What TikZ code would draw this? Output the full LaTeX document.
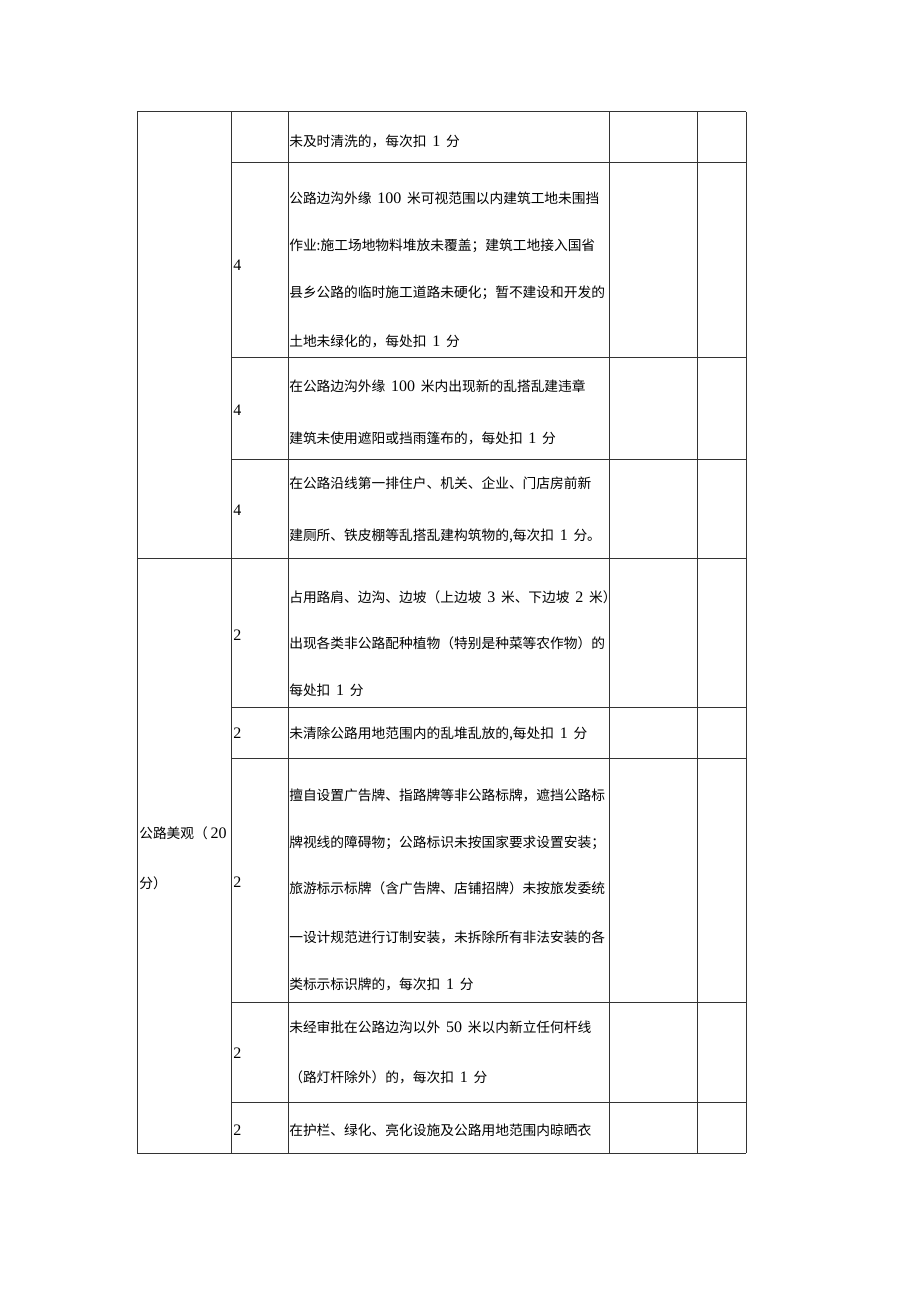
\documentclass[tikz,border=0pt]{standalone}
\usepackage{fontspec}
\setmainfont{Noto Sans CJK SC}
\newfontfamily\latinfont{Liberation Serif}
\newcommand\nm[1]{\hspace{2pt}{\latinfont\fontsize{12}{14}\selectfont #1}\hspace{2pt}}

\begin{document}
\begin{tikzpicture}[x=0.75pt,y=-0.75pt,
    rule/.style={line width=0.75pt, draw=black!80},
    txt/.style={anchor=base west, inner sep=0pt, font=\fontsize{10.3}{12}\selectfont},
    score/.style={anchor=west, inner sep=0pt, font=\latinfont\fontsize{12}{14}\selectfont}]
    \useasboundingbox (0,0) rectangle (920,1301);

    % table rules
    \foreach \x in {137,231,288,609,697,746}
      \draw[rule] (\x,112) -- (\x,1153);
    \foreach \y in {112,558,1153}
      \draw[rule] (137,\y) -- (746,\y);
    \foreach \y in {163,358,459,707,758,1002,1102}
      \draw[rule] (231,\y) -- (746,\y);

    % item column
    \node[txt] (cat1) at (139,838) {公路美观（\nm{20}};
    \node[txt] (cat2) at (139,888) {分）};

    % scores
    \foreach \y/\s [count=\i] in {265/4,410/4,510/4,635/2,733/2,882/2,1053/2,1130/2}
      \node[score] (score\i) at (233,\y) {\s};

    % criteria
    \foreach \y/\t [count=\i] in {
        147/{未及时清洗的，每次扣 \nm{1} 分},
        204/{公路边沟外缘 \nm{100} 米可视范围以内建筑工地未围挡},
        251/{作业:施工场地物料堆放未覆盖；建筑工地接入国省},
        298/{县乡公路的临时施工道路未硬化；暂不建设和开发的},
        347/{土地未绿化的，每处扣 \nm{1} 分},
        392/{在公路边沟外缘 \nm{100} 米内出现新的乱搭乱建违章},
        443/{建筑未使用遮阳或挡雨篷布的，每处扣 \nm{1} 分},
        488/{在公路沿线第一排住户、机关、企业、门店房前新},
        540/{建厕所、铁皮棚等乱搭乱建构筑物的,每次扣 \nm{1} 分。},
        602/{占用路肩、边沟、边坡（上边坡 \nm{3} 米、下边坡 \nm{2} 米）},
        648/{出现各类非公路配种植物（特别是种菜等农作物）的},
        695/{每处扣 \nm{1} 分},
        738/{未清除公路用地范围内的乱堆乱放的,每处扣 \nm{1} 分},
        800/{擅自设置广告牌、指路牌等非公路标牌，遮挡公路标},
        847/{牌视线的障碍物；公路标识未按国家要求设置安装；},
        893/{旅游标示标牌（含广告牌、店铺招牌）未按旅发委统},
        942/{一设计规范进行订制安装，未拆除所有非法安装的各},
        989/{类标示标识牌的，每次扣 \nm{1} 分},
        1032/{未经审批在公路边沟以外 \nm{50} 米以内新立任何杆线},
        1082/{（路灯杆除外）的，每次扣 \nm{1} 分},
        1135/{在护栏、绿化、亮化设施及公路用地范围内晾晒衣}}
      \node[txt] (line\i) at (289,\y) {\t};
  \end{tikzpicture}
\end{document}
